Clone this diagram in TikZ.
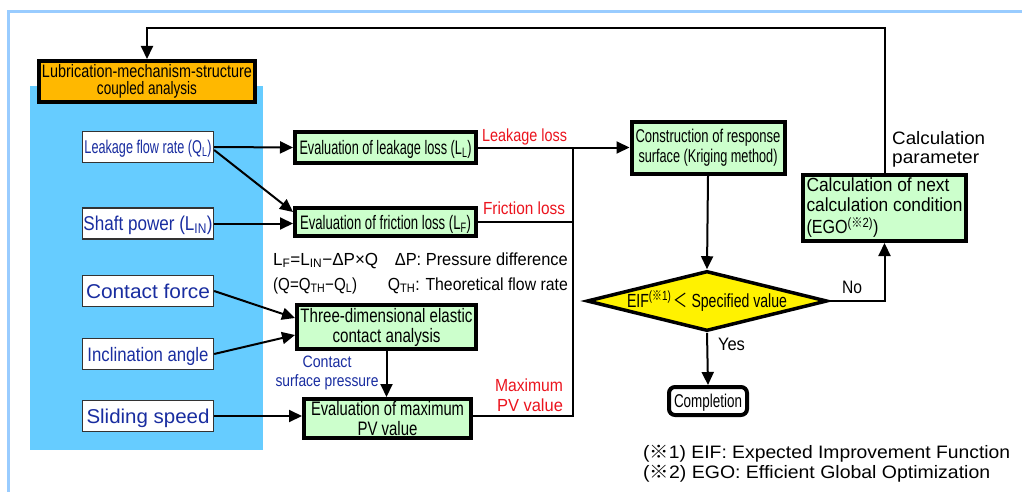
\documentclass[tikz,border=0pt]{standalone}
\usepackage{fontspec}
\usepackage{graphicx}
\setmainfont{Liberation Sans}
\newfontfamily\cjk{Noto Sans CJK JP}
\usetikzlibrary{arrows.meta,shapes.geometric}

\definecolor{framebl}{RGB}{153,204,255}
\definecolor{panelbl}{RGB}{102,204,255}
\definecolor{orangebx}{RGB}{255,184,0}
\definecolor{greenbx}{RGB}{204,255,204}
\definecolor{inblue}{RGB}{25,45,160}
\definecolor{lossred}{RGB}{235,20,30}

% squeeze or stretch a line of text to a given width (in pt), height kept
\newcommand\fitw[2]{\resizebox{#1pt}{\height}{#2}}
\newcommand\kome{{\cjk ※}}
\newcommand\fsz[1]{\fontsize{#1pt}{#1pt}\selectfont}

\begin{document}
\begin{tikzpicture}[x=1pt,y=-1pt,
  inbox/.style={draw=black!80, line width=1.3pt, fill=white,
    minimum width=131pt, minimum height=31pt, inner sep=0pt,
    text=inblue, text depth=0pt},
  proc/.style={draw=black, line width=4pt, fill=greenbx,
    inner sep=0pt, align=center},
  flow/.style={line width=2pt, -{Triangle[length=13pt,width=12pt]}},
  wire/.style={line width=2pt},
  tag/.style={inner sep=0pt, text depth=0pt}]

\useasboundingbox (0,0) rectangle (1022,492);

% outer frame and the analysis panel
\draw[framebl, line width=3pt] (1022,12) -- (8,12) -- (8,492);
\fill[panelbl] (30,86) rectangle (263,450);

\node[draw, line width=4pt, fill=orangebx, minimum width=216pt,
  minimum height=41pt, inner sep=0pt, align=center,
  font=\fontsize{18pt}{17pt}\selectfont] (lmsc) at (147,81.5)
  {\fitw{210}{Lubrication-mechanism-structure}\\\fitw{100}{coupled analysis}};

% inputs
\node[inbox, font=\fsz{18.5}, text height=13.3pt] (ql) at (148,147)
  {\fitw{127}{Leakage flow rate (Q\textsubscript{L})}};
\node[inbox, font=\fsz{20}, text height=14.4pt] (sp) at (148,223.5)
  {\fitw{129}{Shaft power (L\textsubscript{IN})}};
\node[inbox, font=\fsz{20}, text height=14.4pt] (cf) at (148,291)
  {\fitw{124}{Contact force}};
\node[inbox, font=\fsz{19.5}, text height=14pt] (ia) at (148,354)
  {\fitw{121}{Inclination angle}};
\node[inbox, font=\fsz{20}, text height=14.4pt] (ss) at (148,416)
  {\fitw{123}{Sliding speed}};

% evaluation steps
\node[proc, minimum width=181pt, minimum height=31pt, font=\fsz{19.5},
  text height=14pt, text depth=0pt] (ell) at (385.5,147.5)
  {\fitw{172}{Evaluation of leakage loss (L\textsubscript{L})}};
\node[proc, minimum width=181pt, minimum height=28pt, font=\fsz{19.5},
  text height=14pt, text depth=0pt] (efl) at (385.5,222)
  {\fitw{171}{Evaluation of friction loss (L\textsubscript{F})}};
\node[proc, minimum width=179pt, minimum height=44pt,
  font=\fontsize{19.5pt}{20pt}\selectfont] (tde) at (386.5,327)
  {\fitw{172}{Three-dimensional elastic}\\\fitw{108}{contact analysis}};
\node[proc, minimum width=167pt, minimum height=39pt,
  font=\fontsize{19.5pt}{20pt}\selectfont] (pv) at (387.5,418.5)
  {\fitw{153}{Evaluation of maximum}\\\fitw{60}{PV value}};

% optimisation loop
\node[proc, minimum width=153pt, minimum height=52pt,
  font=\fontsize{18.5pt}{20pt}\selectfont] (cons) at (708,148)
  {\fitw{145}{Construction of response}\\\fitw{139}{surface (Kriging method)}};
\node[proc, align=left, minimum width=163pt, minimum height=66pt,
  font=\fontsize{19pt}{19.5pt}\selectfont] (calc) at (884.5,208)
  {\fitw{143}{Calculation of next}\\\fitw{156}{calculation condition}\\[3pt]
   \fitw{72}{(EGO\textsuperscript{(\kome2)})}};
\node[diamond, draw, line width=3.5pt, fill=yellow, aspect=4, inner sep=0pt,
  minimum width=233pt, minimum height=55pt, font=\fsz{19}] (dia) at (707,301)
  {\fitw{160}{EIF\textsuperscript{(\kome1)}\,{\cjk ＜} Specified value}};
\node[draw, line width=4pt, fill=white, rounded corners=6pt, inner sep=0pt,
  minimum width=78pt, minimum height=28pt, font=\fsz{18.5},
  text height=13.3pt, text depth=0pt] (comp) at (708,401)
  {\fitw{68}{Completion}};

% connectors
\coordinate (fb) at (147,28);
\coordinate (bus) at (573,147.5);
\draw[flow] (calc.north) |- (fb) -- (lmsc.north);
\draw[flow] (ql.east) -- (ell.west);
\draw[flow] ([yshift=-3pt]ql.east) -- ([yshift=10pt]efl.west);
\draw[flow] (sp.east) -- (sp.east -| efl.west);
\draw[flow] (cf.east) -- ([yshift=9pt]tde.west);
\draw[flow] (ia.east) -- ([yshift=-8pt]tde.west);
\draw[flow] (ss.east) -- (ss.east -| pv.west);
\draw[flow] (tde.south) -- (tde.south |- pv.north);
\draw[flow] (ell.east) -- (ell.east -| cons.west);
\draw[wire] (efl.east) -- (efl.east -| bus);
\draw[wire] ([yshift=3pt]pv.east) -| (bus);
\draw[flow] (cons.south) -- (dia.north);
\draw[flow] (dia.south) -- (comp.north);
\draw[flow] (dia.east) -| (calc.south);

% labels
\node[tag, font=\fsz{17.5}, text=lossred, text height=12.5pt] (lkl) at (524.5,135.5)
  {\fitw{85}{Leakage loss}};
\node[tag, font=\fsz{17.5}, text=lossred, text height=12.5pt] (frl) at (524,208.5)
  {\fitw{82}{Friction loss}};
\node[tag, font=\fsz{17.5}, text height=12.5pt, anchor=west] (eq1) at (273,259)
  {\fitw{105}{L\textsubscript{F}=L\textsubscript{IN}−ΔP×Q}};
\node[tag, font=\fsz{17.5}, text height=12.5pt, anchor=east] (dp) at (568,259)
  {\fitw{173}{ΔP: Pressure difference}};
\node[tag, font=\fsz{17.5}, text height=12.5pt, anchor=west] (eq2) at (273,284)
  {\fitw{84}{(Q=Q\textsubscript{TH}−Q\textsubscript{L})}};
\node[tag, font=\fsz{17.5}, text height=12.5pt, anchor=east] (qth) at (568,284)
  {\fitw{180}{Q\textsubscript{TH}: Theoretical flow rate}};
\node[tag, font=\fsz{16.5}, text=inblue, text height=11.8pt] (csp1) at (327,361.5)
  {\fitw{49}{Contact}};
\node[tag, font=\fsz{16.5}, text=inblue, text height=11.8pt] (csp2) at (327,381)
  {\fitw{103}{surface pressure}};
\node[tag, font=\fsz{17.5}, text=lossred, text height=12.5pt] (mpv1) at (529,385.5)
  {\fitw{68}{Maximum}};
\node[tag, font=\fsz{17.5}, text=lossred, text height=12.5pt] (mpv2) at (530,405)
  {\fitw{66}{PV value}};
\node[tag, font=\fsz{18}, text height=13pt, anchor=west] (cp1) at (892,138.5)
  {\fitw{93}{Calculation}};
\node[tag, font=\fsz{18}, text height=13pt, anchor=west] (cp2) at (892,157)
  {\fitw{87}{parameter}};
\node[tag, font=\fsz{18}, text height=13pt] (no) at (852,286.5) {\fitw{20}{No}};
\node[tag, font=\fsz{18}, text height=13pt] (yes) at (731.5,343.5) {\fitw{27}{Yes}};
\node[tag, font=\fsz{18}, text height=13pt, anchor=west] (fn1) at (643,451.5)
  {\fitw{367}{(\kome1) EIF: Expected Improvement Function}};
\node[tag, font=\fsz{18}, text height=13pt, anchor=west] (fn2) at (643,471.5)
  {\fitw{347}{(\kome2) EGO: Efficient Global Optimization}};
\end{tikzpicture}
\end{document}
